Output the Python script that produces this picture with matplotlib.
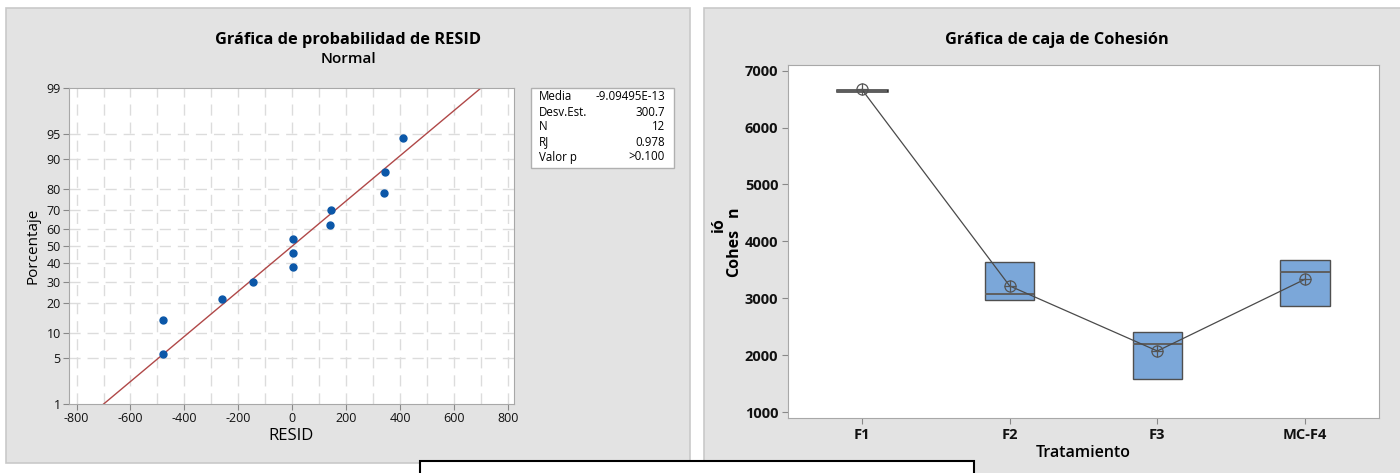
import matplotlib
matplotlib.use("Agg")
import matplotlib.pyplot as plt
from matplotlib.patches import Rectangle
from statistics import NormalDist
import numpy as np

plt.rcParams['font.family'] = ['Open Sans', 'DejaVu Sans']

# --- probability plot data ---
resid = [-480, -478, -259, -147, 1, 2, 3, 141, 143, 341, 345, 410]
pct = [5.6, 13.7, 21.8, 29.8, 37.9, 46.0, 54.0, 62.1, 70.2, 78.2, 86.3, 94.4]
pct_ticks = [1, 5, 10, 20, 30, 40, 50, 60, 70, 80, 90, 95, 99]
resid_ticks = [-800, -600, -400, -200, 0, 200, 400, 600, 800]
stat_names = ['Media', 'Desv.Est.', 'N', 'RJ', 'Valor p']
stat_vals = ['-9.09495E-13', '300.7', '12', '0.978', '>0.100']
fit_mean = 0.0
fit_sd = 300.7

# --- boxplot data ---
treatments = ['F1', 'F2', 'F3', 'MC-F4']
q1 = [6640, 2966, 1588, 2855]
medians = [6650, 3071, 2204, 3464]
q3 = [6662, 3634, 2415, 3664]
means = [6670, 3217, 2073, 3335]
coh_ticks = [1000, 2000, 3000, 4000, 5000, 6000, 7000]

nd = NormalDist()
def z(p):
    return nd.inv_cdf(p / 100.0)

fig = plt.figure(figsize=(14, 4.73), dpi=100)
W, H = 1400, 473

def fr(x0, y0, x1, y1):
    # pixel box (top-left origin) -> figure fraction rect
    return [x0 / W, 1 - y1 / H, (x1 - x0) / W, (y1 - y0) / H]

# gray panels
for box in [fr(6, 8, 690, 463), fr(704, 8, 1410, 480)]:
    fig.patches.append(Rectangle((box[0], box[1]), box[2], box[3], transform=fig.transFigure,
                                 facecolor='#E3E3E3', edgecolor='#C9C9C9', lw=1.2, zorder=-10))

# ---------- left: normal probability plot ----------
ax1 = fig.add_axes(fr(69, 88, 514, 404))
ax1.set_facecolor('white')
ax1.set_xlim(-828, 822)
ax1.set_ylim(z(1), z(99))
for xv in range(-800, 801, 100):
    ax1.axvline(xv, color='#DCDCDC', lw=1, ls=(0, (8, 5)), zorder=0)
for p in pct_ticks[1:-1]:
    ax1.axhline(z(p), color='#DCDCDC', lw=1, ls=(0, (8, 5)), zorder=0)

zz = np.array([z(1), z(99)])
ax1.plot(fit_mean + fit_sd * zz, zz, color='#B04848', lw=1, zorder=2)
ax1.plot(resid, [z(p) for p in pct], 'o', color='#0B57A8', ms=5, zorder=3)

ax1.set_xticks(resid_ticks)
ax1.set_xticklabels([str(t) for t in resid_ticks])
ax1.set_yticks([z(p) for p in pct_ticks])
ax1.set_yticklabels([str(p) for p in pct_ticks])
ax1.tick_params(labelsize=9, colors='#888888', labelcolor='#111111', length=4, pad=2)
for s in ax1.spines.values():
    s.set_color('#A8A8A8')
ax1.set_xlabel('RESID', fontsize=12, labelpad=2)
ax1.set_ylabel('Porcentaje', fontsize=11, labelpad=4)

fig.text(348 / W, 1 - 40 / H, 'Gráfica de probabilidad de RESID', ha='center', va='center',
         fontsize=11.8, fontweight='bold')
fig.text(348 / W, 1 - 59 / H, 'Normal', ha='center', va='center', fontsize=11, fontweight='semibold')

# stats box
sb = fr(531, 88, 674, 168)
fig.patches.append(Rectangle((sb[0], sb[1]), sb[2], sb[3], transform=fig.transFigure,
                             facecolor='white', edgecolor='#B0B0B0', lw=1, zorder=1))
for i, (n, v) in enumerate(zip(stat_names, stat_vals)):
    yy = 1 - (97 + 15 * i) / H
    fig.text(539 / W, yy, n, ha='left', va='center', fontsize=8.3)
    fig.text(665 / W, yy, v, ha='right', va='center', fontsize=8.3)

# ---------- right: boxplot ----------
ax2 = fig.add_axes(fr(788, 65, 1379, 418))
ax2.set_facecolor('white')
stats = []
for lab, a, m, b in zip(treatments, q1, medians, q3):
    stats.append(dict(label=lab, q1=a, med=m, q3=b, whislo=a, whishi=b, fliers=[]))
pos = np.arange(1, len(treatments) + 1)
bp = ax2.bxp(stats, positions=pos, widths=0.335, patch_artist=True, showcaps=False,
             boxprops=dict(facecolor='#7BA7D9', edgecolor='#4F4F4F', lw=1),
             medianprops=dict(color='#5F5F5F', lw=1.4),
             whiskerprops=dict(color='#4F4F4F', lw=1))
bp['boxes'][0].set_linewidth(1.8)
bp['boxes'][0].set_edgecolor('#333333')
ax2.plot(pos, means, color='#4A4A4A', lw=0.9, zorder=4)
ax2.plot(pos, means, 'o', ms=8, mfc='none', mec='#555555', mew=0.9, zorder=5)
ax2.plot(pos, means, '+', ms=8, color='#555555', mew=0.9, zorder=5)
ax2.set_xlim(0.5, 4.5)
ax2.set_ylim(895, 7100)
ax2.set_yticks(coh_ticks)
ax2.set_xticks(pos)
ax2.set_xticklabels(treatments)
ax2.tick_params(labelsize=10.5, colors='#888888', labelcolor='#111111', length=4, pad=3)
for lbl in ax2.get_xticklabels() + ax2.get_yticklabels():
    lbl.set_fontweight('bold')
for s in ax2.spines.values():
    s.set_color('#A8A8A8')
ax2.set_xlabel('Tratamiento', fontsize=11.5, fontweight='semibold', labelpad=2)

fig.text(1057 / W, 1 - 40 / H, 'Gráfica de caja de Cohesión', ha='center', va='center',
         fontsize=11.8, fontweight='bold')

# broken y label "Cohes ió n"
fig.text(738 / W, 1 - 277 / H, 'Cohes', rotation=90, rotation_mode='anchor',
         ha='left', va='baseline', fontsize=11.5, fontweight='bold')
fig.text(738 / W, 1 - 217 / H, 'n', rotation=90, rotation_mode='anchor',
         ha='left', va='baseline', fontsize=11.5, fontweight='bold')
fig.text(723 / W, 1 - 232 / H, 'ió', rotation=90, rotation_mode='anchor',
         ha='left', va='baseline', fontsize=11.5, fontweight='bold')

# white overlay box at bottom
ob = fr(420, 461, 974, 490)
fig.patches.append(Rectangle((ob[0], ob[1]), ob[2], ob[3], transform=fig.transFigure,
                             facecolor='white', edgecolor='black', lw=1.5, zorder=10))

fig.savefig('out.png', dpi=100)
